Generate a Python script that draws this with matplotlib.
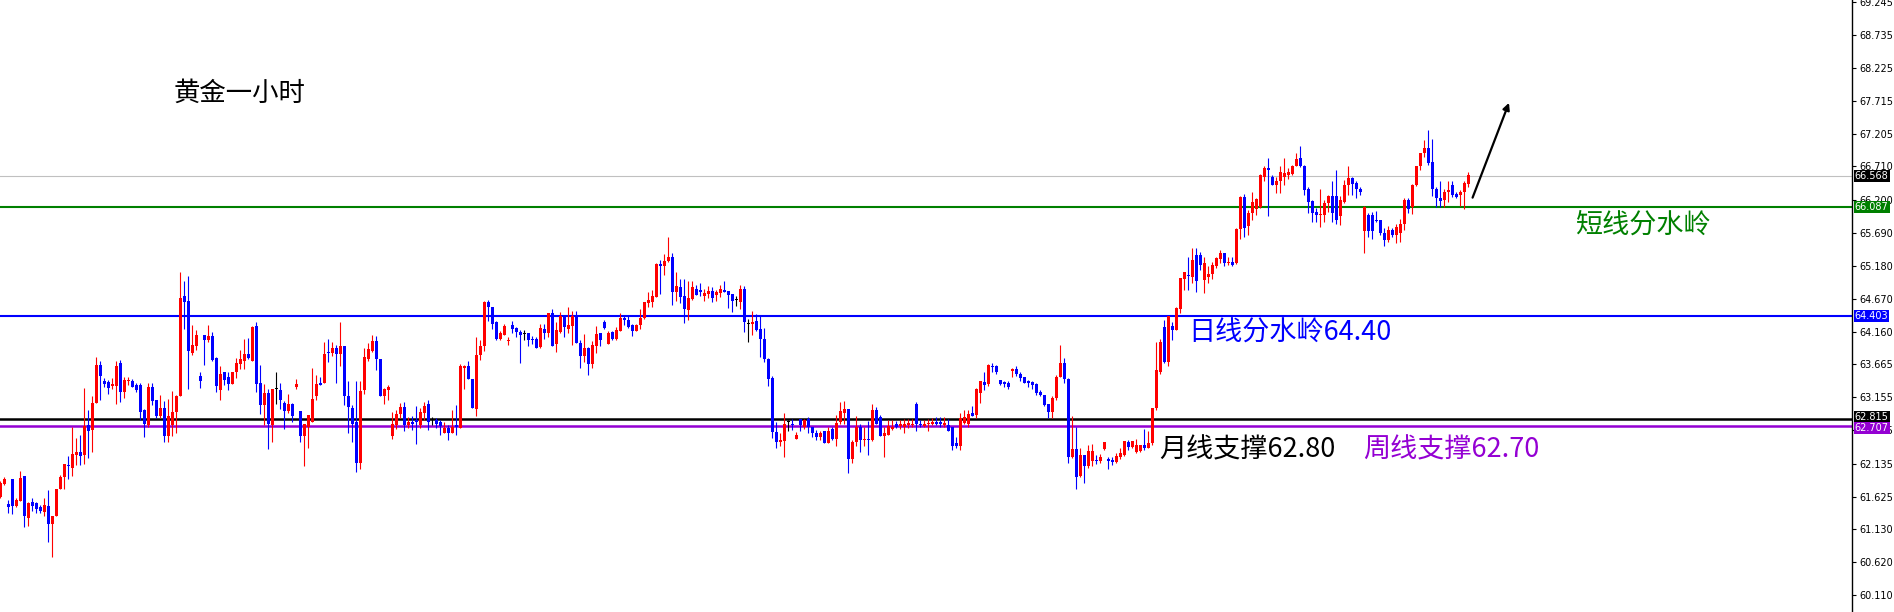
import matplotlib
matplotlib.use("Agg")
import matplotlib.pyplot as plt

plt.rcParams['font.family'] = ['Noto Sans CJK SC', 'DejaVu Sans']

# hourly gold candles (oldest first)
opens = [
    61.62, 61.82, 61.51, 61.89, 61.48, 61.56, 61.94, 61.29, 61.54, 61.52, 61.46, 61.39, 61.48, 61.20, 61.32, 61.74,
    61.92, 62.11, 62.07, 62.27, 62.31, 62.26, 62.73, 62.65, 63.07, 63.65, 63.41, 63.39, 63.33, 63.33, 63.68, 63.24,
    63.40, 63.41, 63.34, 63.34, 62.96, 62.73, 63.31, 63.11, 62.87, 62.99, 62.56, 62.73, 62.93, 63.17, 64.72, 64.64,
    63.84, 63.95, 63.48, 64.11, 64.03, 64.10, 63.76, 63.27, 63.54, 63.46, 63.36, 63.55, 63.67, 63.71, 63.82, 63.71,
    64.25, 63.37, 63.04, 63.22, 62.73, 63.28, 63.27, 63.06, 62.94, 63.05, 63.32, 62.94, 62.56, 62.69, 62.78, 63.18,
    63.38, 63.38, 63.86, 63.83, 63.92, 63.82, 63.94, 63.18, 62.99, 62.77, 62.15, 63.27, 63.75, 63.87, 64.02, 63.75,
    63.18, 63.26, 62.56, 62.73, 62.90, 63.00, 62.73, 62.78, 62.81, 62.73, 62.92, 63.05, 62.81, 62.81, 62.78, 62.61,
    62.68, 62.61, 62.73, 62.68, 63.60, 63.63, 63.44, 62.98, 63.80, 63.94, 64.63, 64.54, 64.32, 64.06, 64.12, 64.02,
    64.27, 64.22, 64.16, 64.13, 64.14, 64.06, 64.05, 63.93, 64.20, 64.14, 64.45, 63.97, 64.16, 64.40, 64.20, 64.25,
    64.39, 63.99, 63.79, 63.92, 63.67, 63.94, 64.14, 64.32, 63.98, 64.16, 64.05, 64.17, 64.38, 64.35, 64.27, 64.18,
    64.27, 64.37, 64.61, 64.63, 64.70, 65.21, 65.17, 65.25, 65.31, 64.77, 64.85, 64.72, 64.50, 64.67, 64.82, 64.81,
    64.71, 64.75, 64.79, 64.73, 64.76, 64.81, 64.79, 64.75, 64.65, 64.63, 64.83, 64.29, 64.28, 64.33, 64.20, 64.05,
    63.74, 63.45, 62.62, 62.46, 62.48, 62.77, 62.75, 62.52, 62.82, 62.70, 62.82, 62.70, 62.61, 62.54, 62.64, 62.45,
    62.66, 62.51, 62.78, 62.91, 62.98, 62.21, 62.47, 62.70, 62.50, 62.52, 62.50, 62.96, 62.85, 62.56, 62.58, 62.66,
    62.74, 62.71, 62.70, 62.73, 62.73, 63.05, 62.75, 62.72, 62.74, 62.74, 62.77, 62.78, 62.73, 62.73, 62.69, 62.45,
    62.40, 62.76, 62.74, 62.92, 62.88, 63.22, 63.39, 63.36, 63.64, 63.63, 63.42, 63.39, 63.37, 63.56, 63.59, 63.52,
    63.46, 63.40, 63.39, 63.36, 63.23, 63.19, 63.05, 62.93, 63.14, 63.47, 63.69, 63.43, 62.24, 62.36, 61.95, 62.27,
    62.09, 62.18, 62.19, 62.18, 62.36, 62.21, 62.19, 62.16, 62.24, 62.26, 62.47, 62.39, 62.32, 62.33, 62.42, 62.38,
    62.45, 62.99, 63.55, 64.24, 63.70, 64.25, 64.19, 64.51, 64.97, 65.04, 65.01, 65.35, 65.35, 64.96, 65.01, 65.06,
    65.17, 65.28, 65.37, 65.22, 65.24, 65.22, 65.75, 66.24, 65.79, 65.99, 66.06, 66.08, 66.55, 66.68, 66.55, 66.43,
    66.48, 66.55, 66.58, 66.60, 66.71, 66.84, 66.72, 66.37, 66.18, 66.01, 65.96, 65.96, 66.14, 66.26, 66.26, 65.94,
    66.17, 66.43, 66.54, 66.46, 66.37, 65.71, 65.97, 65.96, 65.89, 65.89, 65.68, 65.57, 65.73, 65.66, 65.68, 65.82,
    66.20, 66.08, 66.43, 66.71, 66.91, 66.99, 66.78, 66.37, 66.23, 66.19, 66.32, 66.43, 66.29, 66.27, 66.31, 66.44,
]
highs = [
    61.86, 61.92, 61.58, 61.90, 61.61, 62.02, 61.94, 61.54, 61.61, 61.54, 61.50, 61.61, 61.73, 61.33, 61.75, 61.96,
    62.13, 62.25, 62.69, 62.53, 62.57, 63.30, 62.96, 63.17, 63.77, 63.71, 63.45, 63.42, 63.45, 63.71, 63.73, 63.47,
    63.46, 63.44, 63.37, 63.37, 62.97, 63.37, 63.37, 63.11, 63.19, 63.10, 63.13, 63.25, 63.19, 65.09, 64.95, 65.02,
    64.27, 64.19, 63.54, 64.11, 64.27, 64.16, 63.77, 63.64, 63.55, 63.54, 63.55, 63.76, 63.89, 64.06, 64.07, 64.25,
    64.31, 63.65, 63.36, 63.28, 63.28, 63.55, 63.37, 63.10, 63.21, 63.07, 63.44, 62.94, 62.75, 62.88, 63.61, 63.50,
    63.47, 64.01, 64.05, 64.00, 63.96, 64.32, 63.94, 63.41, 63.04, 63.40, 63.40, 63.92, 63.99, 64.11, 64.10, 63.75,
    63.30, 63.34, 62.93, 62.96, 63.07, 63.09, 62.85, 62.86, 63.02, 62.99, 63.09, 63.11, 62.85, 62.83, 62.81, 62.78,
    62.73, 62.96, 63.04, 63.67, 63.65, 63.72, 63.44, 64.09, 64.03, 64.64, 64.65, 64.54, 64.33, 64.18, 64.29, 64.08,
    64.33, 64.23, 64.19, 64.19, 64.14, 64.10, 64.09, 64.28, 64.29, 64.46, 64.51, 64.32, 64.47, 64.41, 64.54, 64.49,
    64.49, 64.03, 64.13, 63.93, 64.02, 64.25, 64.14, 64.34, 64.18, 64.18, 64.24, 64.45, 64.40, 64.40, 64.28, 64.28,
    64.51, 64.63, 64.77, 64.80, 65.22, 65.27, 65.36, 65.62, 65.37, 65.09, 64.97, 64.97, 64.94, 64.94, 64.89, 64.91,
    64.83, 64.87, 64.85, 64.81, 64.89, 64.95, 64.79, 64.75, 64.71, 64.89, 64.87, 64.36, 64.49, 64.44, 64.40, 64.22,
    63.76, 63.48, 62.78, 62.60, 62.92, 62.81, 62.82, 62.62, 62.82, 62.82, 62.85, 62.70, 62.65, 62.64, 62.64, 62.69,
    62.69, 62.88, 63.09, 63.10, 62.98, 62.50, 62.87, 62.74, 62.70, 62.79, 63.05, 63.00, 62.88, 62.70, 62.81, 62.81,
    62.79, 62.81, 62.82, 62.82, 62.82, 63.08, 62.81, 62.81, 62.82, 62.83, 62.85, 62.85, 62.85, 62.82, 62.70, 62.55,
    62.92, 62.96, 62.96, 63.02, 63.30, 63.41, 63.55, 63.67, 63.68, 63.65, 63.42, 63.41, 63.40, 63.61, 63.63, 63.55,
    63.47, 63.42, 63.41, 63.37, 63.26, 63.19, 63.05, 63.17, 63.50, 63.96, 63.76, 63.45, 62.86, 62.70, 62.38, 62.27,
    62.42, 62.43, 62.27, 62.28, 62.47, 62.23, 62.23, 62.30, 62.37, 62.48, 62.49, 62.48, 62.52, 62.42, 62.67, 62.63,
    62.99, 64.00, 64.06, 64.35, 64.40, 64.32, 64.55, 64.99, 65.09, 65.32, 65.45, 65.45, 65.40, 65.32, 65.17, 65.24,
    65.32, 65.42, 65.37, 65.32, 65.31, 65.76, 66.26, 66.29, 66.04, 66.32, 66.22, 66.60, 66.71, 66.84, 66.58, 66.55,
    66.71, 66.84, 66.68, 66.73, 66.91, 67.02, 66.73, 66.40, 66.19, 66.07, 66.37, 66.19, 66.27, 66.48, 66.65, 66.26,
    66.50, 66.71, 66.55, 66.48, 66.40, 66.10, 65.99, 66.01, 66.03, 65.89, 65.76, 65.79, 65.76, 65.82, 65.90, 66.22,
    66.22, 66.44, 66.72, 66.92, 67.12, 67.27, 67.13, 66.40, 66.49, 66.37, 66.48, 66.48, 66.32, 66.35, 66.48, 66.63,
]
lows = [
    61.60, 61.81, 61.38, 61.36, 61.46, 61.56, 61.16, 61.17, 61.41, 61.38, 61.37, 61.32, 60.92, 60.70, 61.32, 61.74,
    61.75, 61.90, 61.94, 62.11, 62.11, 62.12, 62.22, 62.31, 63.07, 63.11, 63.32, 63.21, 63.28, 63.05, 63.09, 63.14,
    63.34, 63.31, 63.23, 62.81, 62.55, 62.69, 63.04, 62.83, 62.83, 62.47, 62.47, 62.56, 62.61, 63.17, 64.21, 63.29,
    63.81, 63.89, 63.30, 63.65, 64.00, 63.72, 63.23, 63.11, 63.34, 63.27, 63.36, 63.45, 63.59, 63.59, 63.75, 63.71,
    63.24, 62.90, 62.73, 62.36, 62.47, 63.05, 62.98, 62.67, 62.92, 62.78, 63.29, 62.47, 62.09, 62.38, 62.78, 63.11,
    63.34, 63.38, 63.70, 63.79, 63.38, 63.64, 63.03, 62.60, 62.46, 62.01, 62.05, 63.21, 63.71, 63.86, 63.58, 63.18,
    63.05, 63.11, 62.51, 62.66, 62.83, 62.63, 62.68, 62.65, 62.44, 62.68, 62.81, 62.65, 62.73, 62.68, 62.57, 62.60,
    62.50, 62.60, 62.58, 62.68, 63.29, 63.44, 62.99, 62.87, 63.73, 63.87, 64.33, 64.21, 64.04, 64.04, 64.11, 63.96,
    64.14, 64.09, 63.69, 64.03, 63.94, 63.98, 63.91, 63.91, 64.05, 64.09, 63.94, 63.86, 64.14, 64.09, 64.14, 63.96,
    63.99, 63.61, 63.70, 63.50, 63.61, 63.84, 63.94, 64.20, 63.97, 64.03, 64.03, 64.17, 64.27, 64.22, 64.10, 64.17,
    64.21, 64.36, 64.54, 64.55, 64.70, 64.75, 65.04, 65.24, 64.58, 64.64, 64.61, 64.30, 64.34, 64.65, 64.73, 64.72,
    64.64, 64.69, 64.62, 64.64, 64.70, 64.78, 64.53, 64.47, 64.56, 64.52, 64.16, 64.01, 64.11, 64.17, 63.78, 63.70,
    63.33, 62.53, 62.38, 62.41, 62.23, 62.64, 62.65, 62.52, 62.63, 62.66, 62.61, 62.55, 62.49, 62.50, 62.45, 62.45,
    62.50, 62.40, 62.75, 62.75, 61.99, 62.15, 62.40, 62.32, 62.41, 62.27, 62.48, 62.75, 62.56, 62.24, 62.58, 62.65,
    62.68, 62.67, 62.60, 62.68, 62.69, 62.64, 62.70, 62.69, 62.63, 62.73, 62.73, 62.70, 62.70, 62.64, 62.34, 62.38,
    62.35, 62.74, 62.70, 62.87, 62.83, 63.06, 63.27, 63.33, 63.55, 63.52, 63.34, 63.31, 63.28, 63.47, 63.48, 63.40,
    63.37, 63.32, 63.29, 63.19, 63.17, 63.02, 62.83, 62.83, 63.12, 63.47, 63.38, 62.15, 62.22, 61.75, 61.93, 61.83,
    62.06, 62.10, 62.13, 62.14, 62.34, 62.05, 62.11, 62.14, 62.20, 62.25, 62.35, 62.37, 62.30, 62.32, 62.34, 62.37,
    62.42, 62.96, 63.52, 63.69, 63.63, 64.04, 64.19, 64.45, 64.81, 64.81, 64.91, 64.78, 65.12, 64.76, 64.91, 64.97,
    65.14, 65.22, 65.17, 65.19, 65.17, 65.21, 65.60, 65.63, 65.66, 65.89, 65.96, 66.07, 66.49, 65.94, 66.43, 66.30,
    66.30, 66.43, 66.51, 66.58, 66.71, 66.70, 66.27, 65.99, 65.86, 65.86, 65.78, 65.86, 66.01, 65.86, 65.83, 65.81,
    66.14, 66.27, 66.27, 66.22, 66.27, 65.38, 65.63, 65.59, 65.86, 65.65, 65.49, 65.54, 65.63, 65.53, 65.54, 65.73,
    65.99, 65.98, 66.41, 66.65, 66.86, 66.73, 66.26, 66.09, 66.08, 66.09, 66.17, 66.24, 66.22, 66.10, 66.05, 66.40,
]
closes = [
    61.83, 61.89, 61.47, 61.48, 61.57, 61.91, 61.32, 61.52, 61.48, 61.44, 61.41, 61.49, 61.20, 61.33, 61.74, 61.93,
    62.13, 62.09, 62.28, 62.31, 62.25, 62.71, 62.64, 63.07, 63.65, 63.48, 63.36, 63.30, 63.36, 63.64, 63.23, 63.42,
    63.42, 63.32, 63.27, 62.93, 62.74, 63.32, 63.10, 62.87, 62.99, 62.56, 62.87, 62.93, 63.17, 64.69, 64.63, 63.87,
    63.96, 64.11, 63.41, 64.04, 64.10, 63.73, 63.33, 63.51, 63.42, 63.36, 63.55, 63.68, 63.75, 63.82, 63.76, 64.24,
    63.36, 63.04, 63.22, 62.74, 63.28, 63.28, 63.12, 62.95, 63.05, 62.87, 63.36, 62.56, 62.75, 62.88, 63.13, 63.36,
    63.34, 63.82, 63.84, 63.92, 63.82, 63.94, 63.18, 63.01, 62.74, 62.15, 63.25, 63.77, 63.90, 64.02, 63.74, 63.18,
    63.28, 63.32, 62.74, 62.90, 63.00, 62.73, 62.78, 62.74, 62.77, 62.93, 63.02, 62.78, 62.81, 62.74, 62.71, 62.68,
    62.61, 62.70, 62.70, 63.63, 63.64, 63.44, 62.99, 63.80, 63.94, 64.63, 64.54, 64.29, 64.06, 64.15, 64.25, 64.03,
    64.21, 64.16, 64.12, 64.13, 64.04, 64.03, 63.92, 64.22, 64.14, 64.45, 63.94, 64.19, 64.40, 64.23, 64.27, 64.40,
    63.99, 63.79, 63.91, 63.67, 63.96, 64.13, 64.03, 64.22, 64.15, 64.06, 64.19, 64.38, 64.34, 64.24, 64.18, 64.27,
    64.38, 64.63, 64.65, 64.72, 65.21, 65.17, 65.25, 65.31, 64.77, 64.87, 64.70, 64.52, 64.68, 64.86, 64.73, 64.77,
    64.76, 64.79, 64.69, 64.77, 64.82, 64.78, 64.73, 64.64, 64.65, 64.82, 64.31, 64.29, 64.32, 64.19, 64.05, 63.74,
    63.44, 62.62, 62.47, 62.50, 62.75, 62.77, 62.73, 62.57, 62.73, 62.80, 62.70, 62.61, 62.54, 62.61, 62.45, 62.64,
    62.51, 62.76, 62.94, 62.98, 62.21, 62.47, 62.70, 62.50, 62.52, 62.50, 62.96, 62.75, 62.56, 62.60, 62.71, 62.70,
    62.70, 62.74, 62.74, 62.76, 62.75, 62.75, 62.73, 62.75, 62.76, 62.78, 62.74, 62.74, 62.76, 62.64, 62.41, 62.40,
    62.83, 62.85, 62.90, 62.87, 63.29, 63.40, 63.35, 63.65, 63.62, 63.54, 63.36, 63.36, 63.32, 63.59, 63.51, 63.45,
    63.38, 63.37, 63.35, 63.22, 63.19, 63.04, 62.93, 63.14, 63.47, 63.69, 63.43, 62.24, 62.36, 61.93, 62.27, 62.09,
    62.33, 62.33, 62.18, 62.23, 62.46, 62.18, 62.16, 62.25, 62.29, 62.48, 62.39, 62.48, 62.42, 62.42, 62.38, 62.45,
    62.99, 63.58, 64.00, 63.70, 64.40, 64.19, 64.53, 64.99, 65.09, 65.02, 65.27, 64.94, 65.19, 65.22, 65.06, 65.19,
    65.30, 65.37, 65.23, 65.24, 65.20, 65.75, 66.24, 65.76, 66.00, 66.17, 66.21, 66.58, 66.68, 66.66, 66.43, 66.48,
    66.63, 66.61, 66.63, 66.72, 66.82, 66.71, 66.35, 66.17, 66.00, 65.96, 65.97, 66.15, 66.26, 65.99, 65.89, 66.19,
    66.43, 66.54, 66.44, 66.36, 66.31, 66.09, 65.71, 65.71, 65.87, 65.68, 65.57, 65.73, 65.66, 65.78, 65.83, 66.20,
    66.06, 66.43, 66.71, 66.91, 66.99, 66.76, 66.37, 66.23, 66.18, 66.32, 66.35, 66.27, 66.24, 66.31, 66.45, 66.58,
]

# price scale labels on the right
tick_values = [69.245, 68.735, 68.225, 67.715, 67.205, 66.710, 66.200, 65.690, 65.180, 64.670,
               64.160, 63.665, 63.155, 62.645, 62.135, 61.625, 61.130, 60.620, 60.110]

# horizontal levels: value, line colour, box colour, width(pt)
level_values = [66.568, 66.087, 64.403, 62.815, 62.707]
level_colors = ['#c0c0c0', '#008000', '#0000ff', '#000000', '#9400d3']
level_box_colors = ['#000000', '#008000', '#0000ff', '#000000', '#9400d3']
level_widths = [0.8, 1.5, 1.5, 1.8, 1.8]
level_shift = [0, 0, 0, 1.5, -1.5]   # pt, keeps the two close boxes apart

n = len(opens)
xs = list(range(n))

fig = plt.figure(figsize=(18.94, 6.12), dpi=100)
ax = fig.add_axes([0, 0, 1852 / 1894, 1])
ax.set_xlim(-0.08, 462.9)
ax.set_ylim(59.848, 69.274)

for v, c, w in zip(level_values, level_colors, level_widths):
    ax.axhline(v, color=c, lw=w, zorder=1)

colors = []
bottoms = []
heights = []
for o, c in zip(opens, closes):
    if c > o:
        colors.append('#ff0000')
    elif c < o:
        colors.append('#0000ff')
    else:
        colors.append('#000000')
    bottoms.append(min(o, c))
    heights.append(max(abs(c - o), 0.016))

ax.vlines(xs, lows, highs, colors=colors, lw=0.8, zorder=3)
ax.bar(xs, heights, bottom=bottoms, width=0.75, color=colors, linewidth=0, zorder=4)

# annotations
ax.text(43.2, 67.84, '黄金一小时', fontsize=19, color='black', va='center', ha='left')
ax.text(393.7, 65.81, '短线分水岭', fontsize=19.5, color='#008000', va='center', ha='left')
ax.text(296.9, 64.15, '日线分水岭64.40', fontsize=19.5, color='#0000ff', va='center', ha='left')
ax.text(289.8, 62.34, '月线支撑62.80', fontsize=19.5, color='black', va='center', ha='left')
ax.text(340.6, 62.34, '周线支撑62.70', fontsize=19.5, color='#9400d3', va='center', ha='left')

ax.annotate('', xy=(377.4, 67.73), xytext=(367.8, 66.19),
            arrowprops=dict(arrowstyle='-|>', color='black', lw=1.6, mutation_scale=10))

# right price scale
for s in ['top', 'left', 'bottom']:
    ax.spines[s].set_visible(False)
ax.spines['right'].set_linewidth(1.0)
ax.set_xticks([])
ax.yaxis.tick_right()
ax.set_yticks(tick_values)
ax.set_yticklabels(['%.3f' % v for v in tick_values], fontsize=7, family='DejaVu Sans')
ax.tick_params(axis='y', direction='out', length=3, width=0.8, pad=2)

for v, bc, dy in zip(level_values, level_box_colors, level_shift):
    ax.annotate('%.3f' % v, xy=(1.0, v), xycoords=('axes fraction', 'data'),
                xytext=(2.0, dy), textcoords='offset points', va='center', ha='left',
                fontsize=7, family='DejaVu Sans', color='white',
                bbox=dict(boxstyle='square,pad=0.1', fc=bc, ec='none'),
                annotation_clip=False, zorder=10)

fig.savefig('out.png', dpi=100)
